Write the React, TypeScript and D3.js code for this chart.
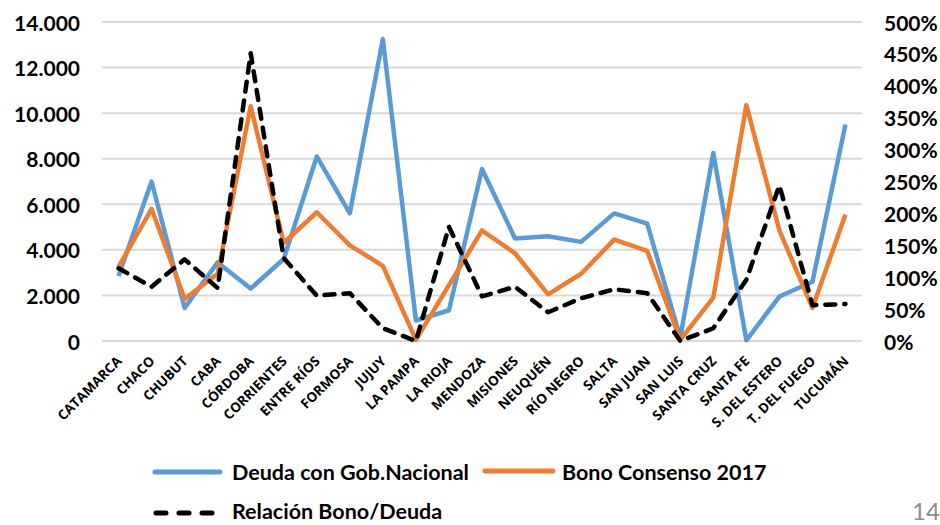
import * as d3 from "d3";

const provincias = [
  "CATAMARCA", "CHACO", "CHUBUT", "CABA", "CÓRDOBA", "CORRIENTES", "ENTRE RÍOS",
  "FORMOSA", "JUJUY", "LA PAMPA", "LA RIOJA", "MENDOZA", "MISIONES", "NEUQUÉN",
  "RÍO NEGRO", "SALTA", "SAN JUAN", "SAN LUIS", "SANTA CRUZ", "SANTA FE",
  "S. DEL ESTERO", "T. DEL FUEGO", "TUCUMÁN",
];

// millones de $
const deuda = [
  2850, 7000, 1450, 3450, 2300, 3600, 8100, 5600, 13250, 900, 1350, 7550,
  4500, 4600, 4350, 5600, 5150, 150, 8250, 30, 1950, 2600, 9500,
];

const bono = [
  3250, 5800, 1850, 2950, 10300, 4300, 5650, 4200, 3300, 50, 2450, 4850,
  3850, 2050, 2950, 4450, 3950, 50, 1900, 10350, 4850, 1450, 5550,
];

// relación bono / deuda
const relacion = [
  1.14, 0.85, 1.28, 0.83, 4.51, 1.3, 0.71, 0.75, 0.2, 0.0, 1.79, 0.7,
  0.85, 0.45, 0.67, 0.81, 0.75, 0.0, 0.2, 0.96, 2.44, 0.56, 0.58,
];

const leftTicks = [0, 2000, 4000, 6000, 8000, 10000, 12000, 14000];
const rightTicks = [0, 0.5, 1, 1.5, 2, 2.5, 3, 3.5, 4, 4.5, 5];

const azul = "#5b9bd5";
const naranja = "#ed7d31";

export default function App() {
  const width = 940;
  const height = 525;
  const left = 102;
  const right = 862;
  const top = 22;
  const bottom = 341;

  const x = d3.scaleBand().domain(provincias).range([left, right]);
  const cx = (p: string) => (x(p) as number) + x.bandwidth() / 2;

  const y = d3.scaleLinear().domain([0, 14000]).range([bottom, top]);
  const y2 = d3.scaleLinear().domain([0, 5]).range([bottom, top]);

  const miles = d3.formatLocale({
    decimal: ",",
    thousands: ".",
    grouping: [3],
    currency: ["$", ""],
  }).format(",");
  const pct = d3.format(".0%");

  const lineaL = d3.line<number>().x((_, i) => cx(provincias[i])).y((d) => y(d));
  const lineaR = d3.line<number>().x((_, i) => cx(provincias[i])).y((d) => y2(d));

  const axisFont = "Lato, 'DejaVu Sans', sans-serif";

  return (
    <svg
      width={width}
      height={height}
      style={{ position: "absolute", left: 0, top: 0, background: "#fff" }}
    >
      {/* grilla */}
      {leftTicks.map((t) => (
        <line key={t} x1={left} x2={right} y1={y(t)} y2={y(t)} stroke="#d9d9d9" strokeWidth={2} />
      ))}

      {/* eje izquierdo */}
      {leftTicks.map((t) => (
        <text
          key={"l" + t}
          x={80}
          y={y(t)}
          textAnchor="end"
          dominantBaseline="central"
          fontFamily={axisFont}
          fontWeight="bold"
          fontSize={21}
          fill="#000"
        >
          {miles(t)}
        </text>
      ))}

      {/* eje derecho */}
      {rightTicks.map((t) => (
        <text
          key={"r" + t}
          x={884}
          y={y2(t)}
          textAnchor="start"
          dominantBaseline="central"
          fontFamily={axisFont}
          fontWeight="bold"
          fontSize={21}
          fill="#000"
        >
          {pct(t)}
        </text>
      ))}

      {/* etiquetas provincias */}
      {provincias.map((p) => (
        <text
          key={p}
          transform={`translate(${cx(p) + 4},${362}) rotate(-45)`}
          textAnchor="end"
          fontFamily="'Open Sans', sans-serif"
          fontWeight="bold"
          fontSize={13.5}
          fill="#000"
        >
          {p}
        </text>
      ))}

      <path d={lineaL(deuda) ?? ""} fill="none" stroke={azul} strokeWidth={4.5} strokeLinejoin="round" />
      <path d={lineaL(bono) ?? ""} fill="none" stroke={naranja} strokeWidth={4.5} strokeLinejoin="round" />
      <path
        d={lineaR(relacion) ?? ""}
        fill="none"
        stroke="#000"
        strokeWidth={4.5}
        strokeDasharray="10 9"
        strokeLinecap="round"
        strokeLinejoin="round"
      />

      {/* leyenda */}
      <g fontFamily={axisFont} fontWeight="bold" fontSize={21.5} fill="#000">
        <line x1={155} x2={220} y1={472} y2={472} stroke={azul} strokeWidth={5} strokeLinecap="round" />
        <text x={232} y={480}>Deuda con Gob.Nacional</text>
        <line x1={485} x2={553} y1={471} y2={471} stroke={naranja} strokeWidth={5} strokeLinecap="round" />
        <text x={562} y={480}>Bono Consenso 2017</text>
        <line
          x1={156}
          x2={216}
          y1={513}
          y2={513}
          stroke="#000"
          strokeWidth={5}
          strokeLinecap="round"
          strokeDasharray="10 13"
        />
        <text x={232} y={519}>Relación Bono/Deuda</text>
      </g>

      <text x={912} y={520} fontFamily={axisFont} fontSize={24} fill="#8c8c8c">
        14
      </text>
    </svg>
  );
}
